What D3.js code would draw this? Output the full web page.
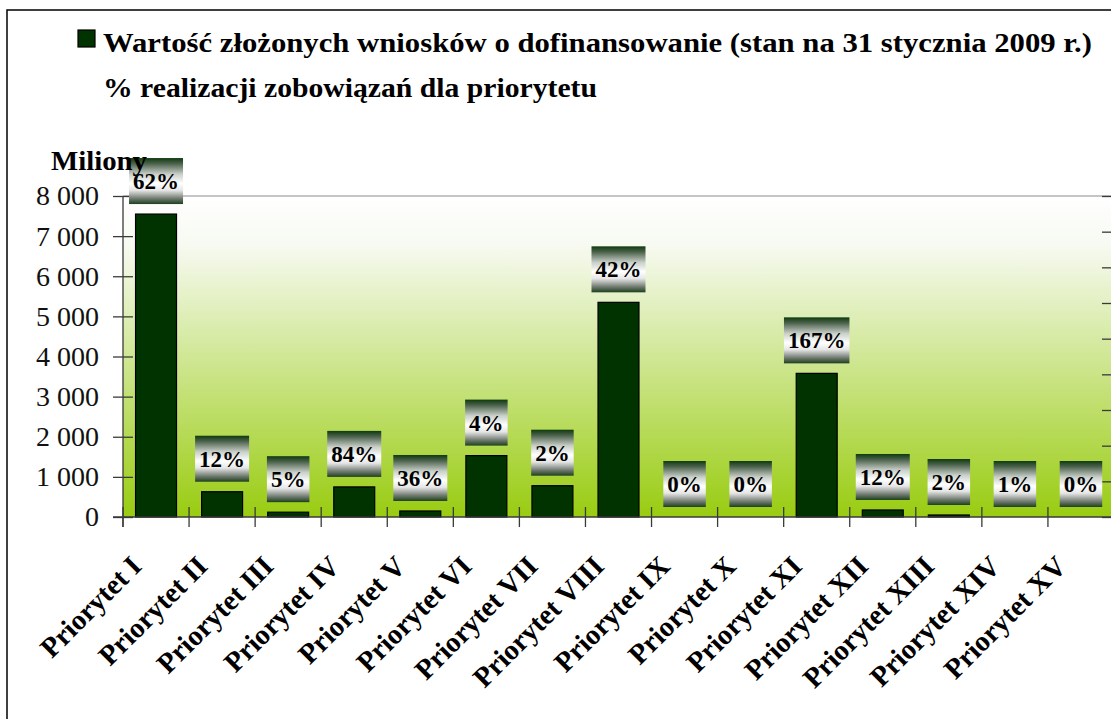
<!DOCTYPE html>
<html><head><meta charset="utf-8">
<script src="https://cdn.jsdelivr.net/npm/d3@7"></script>
<style>
body{margin:0;background:#fff;}
svg{display:block;font-family:"Liberation Serif","Times New Roman",serif;}
</style>
</head><body>
<svg id="c" width="1111" height="719"></svg>
<script>
// ---- data ----
const categories = ["Priorytet I","Priorytet II","Priorytet III","Priorytet IV","Priorytet V",
  "Priorytet VI","Priorytet VII","Priorytet VIII","Priorytet IX","Priorytet X",
  "Priorytet XI","Priorytet XII","Priorytet XIII","Priorytet XIV","Priorytet XV"];
const values = [7550, 630, 120, 750, 150, 1530, 780, 5350, 0, 0, 3580, 175, 50, 0, 0];
const realization = ["62%","12%","5%","84%","36%","4%","2%","42%","0%","0%","167%","12%","2%","1%","0%"];
const yTicks = [0,1000,2000,3000,4000,5000,6000,7000,8000];
const rightTicks = [0,20,40,60,80,100,120,140,160,180];
const seriesLabel = "Wartość złożonych wniosków o dofinansowanie (stan na 31 stycznia 2009 r.)";
const lineLabel = "% realizacji zobowiązań dla priorytetu";
const yTitle = "Miliony";

// ---- layout ----
const svg = d3.select("#c");
const L = 123, R = 1114, T = 196, B = 517;
const x = d3.scaleBand().domain(categories).range([L, R]).paddingInner(0.38).paddingOuter(0.19);
const y = d3.scaleLinear().domain([0, 8000]).range([B, T]);
const y2 = d3.scaleLinear().domain([0, 180]).range([B, T]);
const fmt = d3.formatLocale({decimal:",", thousands:" ", grouping:[3], currency:["","zł"]}).format(",");

const defs = svg.append("defs");
const bg = defs.append("linearGradient").attr("id","bg").attr("x1",0).attr("y1",0).attr("x2",0).attr("y2",1);
bg.append("stop").attr("offset",0).attr("stop-color","#ffffff");
bg.append("stop").attr("offset",0.15).attr("stop-color","#f7faf2");
bg.append("stop").attr("offset",1).attr("stop-color","#99cc11");
const lb = defs.append("linearGradient").attr("id","lb").attr("x1",0).attr("y1",0).attr("x2",0).attr("y2",1);
[[0,"#0e3a0e"],[0.12,"#4b614b"],[0.35,"#c9cfc9"],[0.55,"#ffffff"],[0.7,"#e6e6e6"],[0.88,"#707a70"],[1,"#1d401d"]]
  .forEach(([o,c]) => lb.append("stop").attr("offset",o).attr("stop-color",c));

// outer frame
svg.append("rect").attr("x",7).attr("y",10).attr("width",1200).attr("height",800)
  .attr("fill","#fff").attr("stroke","#000").attr("stroke-width",1.5);

// plot background
svg.append("rect").attr("x",L).attr("y",T).attr("width",R-L).attr("height",B-T).attr("fill","url(#bg)");
svg.append("line").attr("x1",L).attr("x2",R).attr("y1",T).attr("y2",T).attr("stroke","#8c8c8c").attr("stroke-width",1.2);

// bars
svg.append("g").selectAll("rect").data(values).join("rect")
  .attr("x",(d,i)=>x(categories[i]))
  .attr("y",d=>y(d))
  .attr("width",x.bandwidth())
  .attr("height",d=>B-y(d))
  .attr("fill","#003300").attr("stroke","#000").attr("stroke-width",1.2);

// left axis
const ya = svg.append("g").attr("transform",`translate(${L},0)`)
  .call(d3.axisLeft(y).tickValues(yTicks).tickFormat(fmt).tickSizeInner(10).tickSizeOuter(0).tickPadding(14));
ya.select(".domain").remove();
ya.selectAll(".tick line").attr("x2",10).attr("x1",-10).attr("stroke","#3a3a3a").attr("stroke-width",1.3);
ya.selectAll(".tick text").attr("font-size",28).attr("fill","#111").attr("font-family","Liberation Serif");
svg.append("line").attr("x1",L).attr("x2",L).attr("y1",T).attr("y2",B+10).attr("stroke","#3a3a3a").attr("stroke-width",1.3);

// right axis (ticks inward)
const ra = svg.append("g").attr("transform",`translate(${R},0)`)
  .call(d3.axisRight(y2).tickValues(rightTicks).tickSizeInner(-12).tickSizeOuter(0).tickFormat(""));
ra.selectAll(".tick line").attr("stroke","#3a3a3a").attr("stroke-width",1.3);
ra.select(".domain").attr("stroke","#3a3a3a");

// bottom axis
svg.append("line").attr("x1",L-10).attr("x2",R).attr("y1",B).attr("y2",B).attr("stroke","#3a3a3a").attr("stroke-width",1.5);
const bounds = categories.map(c => x(c) - x.step()*x.paddingInner()/2).concat([R]);
svg.append("g").selectAll("line").data(bounds).join("line")
  .attr("x1",d=>d).attr("x2",d=>d).attr("y1",B-10).attr("y2",B+10)
  .attr("stroke","#3a3a3a").attr("stroke-width",1.3);

// category labels
svg.append("g").selectAll("text").data(categories).join("text")
  .attr("transform",d=>`translate(${x(d)+x.bandwidth()/2-13},${B+51}) rotate(-45)`)
  .attr("text-anchor","end").attr("font-weight","bold").attr("font-size",28.5).attr("fill","#000")
  .text(d=>d);

// % labels
const lg = svg.append("g").selectAll("g").data(realization).join("g")
  .attr("transform",(d,i)=>`translate(${x(categories[i])+x.bandwidth()/2},${y(values[i])-10-23})`);
lg.append("text").attr("text-anchor","middle").attr("dy","0.35em")
  .attr("font-weight","bold").attr("font-size",23).text(d=>d);
lg.each(function(){
  const g = d3.select(this);
  const w = g.select("text").node().getComputedTextLength() + 8;
  g.insert("rect","text").attr("x",-w/2).attr("y",-23).attr("width",w).attr("height",46).attr("fill","url(#lb)");
});

// y title
svg.append("text").attr("x",51).attr("y",170).attr("font-weight","bold").attr("font-size",28)
  .attr("textLength",96).attr("lengthAdjust","spacingAndGlyphs").text(yTitle);

// legend
svg.append("rect").attr("x",78).attr("y",30).attr("width",17).attr("height",17)
  .attr("fill","#003300").attr("stroke","#000").attr("stroke-width",1.2);
svg.append("text").attr("x",103).attr("y",52).attr("font-weight","bold").attr("font-size",27)
  .attr("textLength",989).attr("lengthAdjust","spacingAndGlyphs").text(seriesLabel);
svg.append("text").attr("x",103).attr("y",97).attr("font-weight","bold").attr("font-size",27)
  .attr("textLength",494).attr("lengthAdjust","spacingAndGlyphs").text(lineLabel);
</script>
</body></html>
